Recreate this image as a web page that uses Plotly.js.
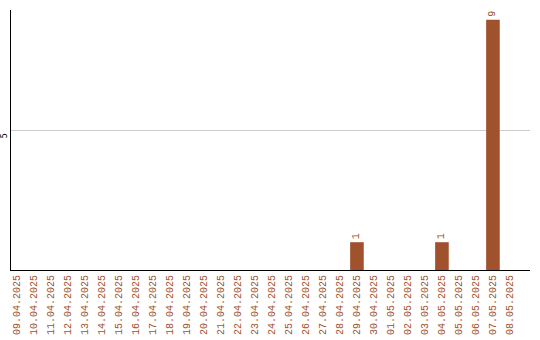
<!DOCTYPE html>
<html>
<head>
<meta charset="utf-8">
<script src="https://cdn.plot.ly/plotly-3.0.1.min.js"></script>
<style>
  html, body { margin: 0; padding: 0; background: #fff; }
  #chart { width: 540px; height: 340px; }
</style>
</head>
<body>
<div id="chart"></div>
<script>
// Daily counts, 09.04.2025 – 08.05.2025
const dates = [
  "09.04.2025", "10.04.2025", "11.04.2025", "12.04.2025", "13.04.2025",
  "14.04.2025", "15.04.2025", "16.04.2025", "17.04.2025", "18.04.2025",
  "19.04.2025", "20.04.2025", "21.04.2025", "22.04.2025", "23.04.2025",
  "24.04.2025", "25.04.2025", "26.04.2025", "27.04.2025", "28.04.2025",
  "29.04.2025", "30.04.2025", "01.05.2025", "02.05.2025", "03.05.2025",
  "04.05.2025", "05.05.2025", "06.05.2025", "07.05.2025", "08.05.2025"
];
const counts = [
  0, 0, 0, 0, 0,
  0, 0, 0, 0, 0,
  0, 0, 0, 0, 0,
  0, 0, 0, 0, 0,
  1, 0, 0, 0, 0,
  1, 0, 0, 9, 0
];
const yTicks = [5];

const brown = "#a0522d";
const mono = "Liberation Mono, Courier New, monospace";
const labels = counts.map(v => (v > 0 ? String(v) : ""));

const trace = {
  type: "bar",
  x: dates,
  y: counts,
  marker: { color: brown },
  text: labels,
  textposition: "outside",
  textangle: -90,
  cliponaxis: false,
  textfont: { family: mono, size: 10, color: brown },
  hoverinfo: "none"
};

const layout = {
  width: 540,
  height: 340,
  margin: { l: 11, r: 10, t: 10, b: 70, pad: 0 },
  paper_bgcolor: "#ffffff",
  plot_bgcolor: "#ffffff",
  showlegend: false,
  bargap: 0.2,
  xaxis: {
    type: "category",
    range: [-0.35, 30.18],
    tickangle: -90,
    tickfont: { family: mono, size: 10, color: brown },
    showgrid: false,
    zeroline: false,
    showline: true,
    linecolor: "#000",
    linewidth: 1,
    ticks: "",
    ticklen: 0,
    automargin: false
  },
  yaxis: {
    range: [0, 9.35],
    tickvals: yTicks,
    ticktext: yTicks.map(String),
    tickangle: -90,
    ticklabelshift: 6,
    tickfont: { family: "DejaVu Sans, sans-serif", size: 8, color: "#000" },
    showgrid: true,
    gridcolor: "#cccccc",
    gridwidth: 1,
    zeroline: false,
    showline: true,
    linecolor: "#000",
    linewidth: 1,
    ticks: "",
    automargin: false
  }
};

Plotly.newPlot("chart", [trace], layout, { displayModeBar: false, staticPlot: true });
</script>
</body>
</html>
